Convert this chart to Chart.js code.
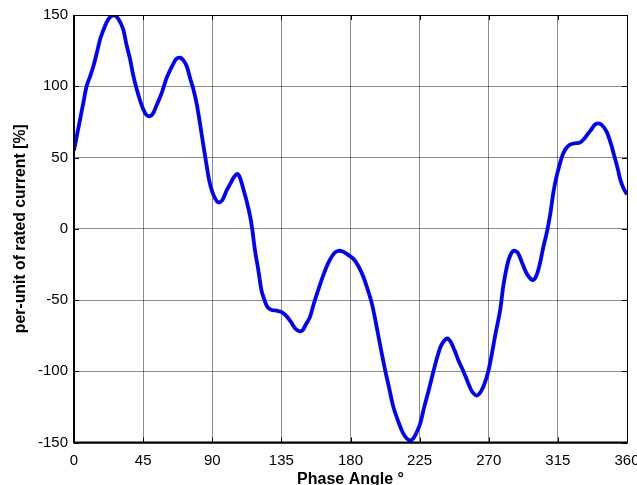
<!DOCTYPE html>
<html>
<head>
<meta charset="utf-8">
<script src="https://cdn.jsdelivr.net/npm/chart.js@4/dist/chart.umd.min.js"></script>
<style>
  html, body { margin: 0; padding: 0; background: #fff; }
  #wrap { width: 637px; height: 485px; }
</style>
</head>
<body>
<div id="wrap"><canvas id="chart" width="637" height="485"></canvas></div>
<script>
// phase angle in degrees
const angles = [
  0, 2, 4, 6, 8.2, 10.5, 12.6, 15, 17, 19, 21.3, 23.5, 26, 29, 32, 34, 36.5, 38.5, 40.8, 43,
  45, 47, 49.5, 51.5, 53.5, 57, 60, 62, 64.3, 66.5, 69, 71, 73.4, 75.5, 77.7, 80, 82, 84, 86.4, 88,
  90, 92, 94, 96.5, 99.4, 102, 104, 106.3, 108, 110.2, 112.5, 114.6, 116, 117.8, 120, 122, 124, 126, 128.7, 132,
  135.2, 138, 141, 144, 147, 149, 151, 153.6, 156, 159, 161.5, 164.5, 167, 169.5, 172, 175, 178, 181.8, 185, 188.3,
  191, 193.8, 196, 199, 202.5, 205, 207.9, 211, 214, 216.5, 218.8, 221, 223, 225.3, 228, 231, 234, 236.5, 239, 242.7,
  245, 248, 250.5, 253.5, 256.5, 259, 262.2, 265, 267.5, 269.7, 272, 274.5, 277.3, 279.5, 281.7, 283.5, 285.5, 287, 289, 292.5,
  295, 298.6, 301, 303.4, 305.5, 307.7, 310, 312, 314, 316.4, 318.5, 320.8, 322.9, 326, 329.4, 332, 334.8, 337, 339, 341.3,
  343.5, 346.8, 348.5, 350, 352, 354, 355.5, 357.5, 360
];
// per-unit of rated current [%]
const current = [
  55, 66, 77, 88, 100, 107, 114, 124, 133, 139, 145, 148.5, 150, 147, 140, 130, 119, 108, 98, 90,
  84, 80, 79, 81, 86, 95, 105, 110, 115, 119, 120, 118.5, 114, 106, 98, 87, 74, 60, 44, 34,
  26, 21, 18.5, 20, 27, 32, 36, 38.5, 36, 28, 19, 9, 0, -15, -29, -43, -50, -55, -57, -57.5,
  -58.5, -61, -65, -70, -72, -71, -67, -62, -53, -43, -35, -26.5, -21, -17, -15.5, -16, -18, -21, -26, -33.5,
  -42, -52, -63, -80, -99, -111, -125, -135, -143, -147, -148.5, -147, -143, -137, -125, -113, -100, -90, -82, -77,
  -79, -86, -93, -100, -108, -114, -117, -114, -108, -100, -88, -73, -58, -40, -27, -20, -16, -15.5, -17, -26,
  -32, -36, -33, -24, -13, -3, 10, 25, 36, 46, 53, 57, 59, 60, 60.5, 63, 67, 70, 73, 74,
  73, 68, 63, 58, 50, 42, 35, 29, 24
];
const xTicks = [0, 45, 90, 135, 180, 225, 270, 315, 360];
const yTicks = [-150, -100, -50, 0, 50, 100, 150];

const FONT = "'Liberation Sans', Arial, sans-serif";

// black frame plus MATLAB style inward tick marks
const boxPlugin = {
  id: "box",
  afterDraw(chart) {
    const { ctx, chartArea: a, scales } = chart;
    ctx.save();
    ctx.strokeStyle = "#000";
    ctx.lineWidth = 1;
    ctx.strokeRect(a.left + 0.5, a.top + 0.5, a.right - a.left, a.bottom - a.top);
    ctx.beginPath();
    xTicks.forEach(function (v) {
      const x = Math.round(scales.x.getPixelForValue(v)) + 0.5;
      ctx.moveTo(x, a.top); ctx.lineTo(x, a.top + 5);
      ctx.moveTo(x, a.bottom); ctx.lineTo(x, a.bottom - 5);
    });
    yTicks.forEach(function (v) {
      const y = Math.round(scales.y.getPixelForValue(v)) + 0.5;
      ctx.moveTo(a.left, y); ctx.lineTo(a.left + 5, y);
      ctx.moveTo(a.right, y); ctx.lineTo(a.right - 5, y);
    });
    ctx.stroke();
    ctx.lineWidth = 2;
    ctx.beginPath();
    ctx.moveTo(a.left, a.top); ctx.lineTo(a.left, a.bottom); ctx.lineTo(a.right, a.bottom);
    ctx.stroke();
    ctx.restore();
  },
};

new Chart(document.getElementById("chart"), {
  type: "line",
  data: {
    datasets: [
      {
        data: angles.map(function (a, i) { return { x: a, y: current[i] }; }),
        borderColor: "#0000ff",
        borderWidth: 3.8,
        pointRadius: 0,
        tension: 0.3,
        fill: false,
      },
    ],
  },
  options: {
    responsive: false,
    animation: false,
    layout: { padding: { top: 15, right: 0, left: 0, bottom: 0 } },
    plugins: { legend: { display: false }, tooltip: { enabled: false } },
    scales: {
      x: {
        type: "linear",
        min: 0,
        max: 360,
        afterBuildTicks(scale) { scale.ticks = xTicks.map(function (v) { return { value: v }; }); },
        afterFit(scale) { scale.height = 42.5; scale.paddingRight = 10; },
        ticks: { color: "#000", padding: 9, maxRotation: 0, autoSkip: false, font: { family: FONT, size: 15 } },
        grid: { color: "rgba(0,0,0,0.45)", lineWidth: 1, drawTicks: false },
        border: { display: false },
        title: {
          display: true,
          text: "Phase Angle °",
          color: "#000",
          padding: { top: 0, bottom: -3 },
          font: { family: FONT, size: 16, weight: "bold", lineHeight: 1 },
        },
      },
      y: {
        type: "linear",
        min: -150,
        max: 150,
        afterBuildTicks(scale) { scale.ticks = yTicks.map(function (v) { return { value: v }; }); },
        afterFit(scale) { scale.width = 74; },
        ticks: { color: "#000", padding: 6, font: { family: FONT, size: 15 } },
        grid: { color: "rgba(0,0,0,0.45)", lineWidth: 1, drawTicks: false },
        border: { display: false },
        title: {
          display: true,
          text: "per-unit of rated current [%]",
          color: "#000",
          padding: { top: 11, bottom: 0 },
          font: { family: FONT, size: 15.8, weight: "bold", lineHeight: 1.2 },
        },
      },
    },
  },
  plugins: [boxPlugin],
});
</script>
</body>
</html>
